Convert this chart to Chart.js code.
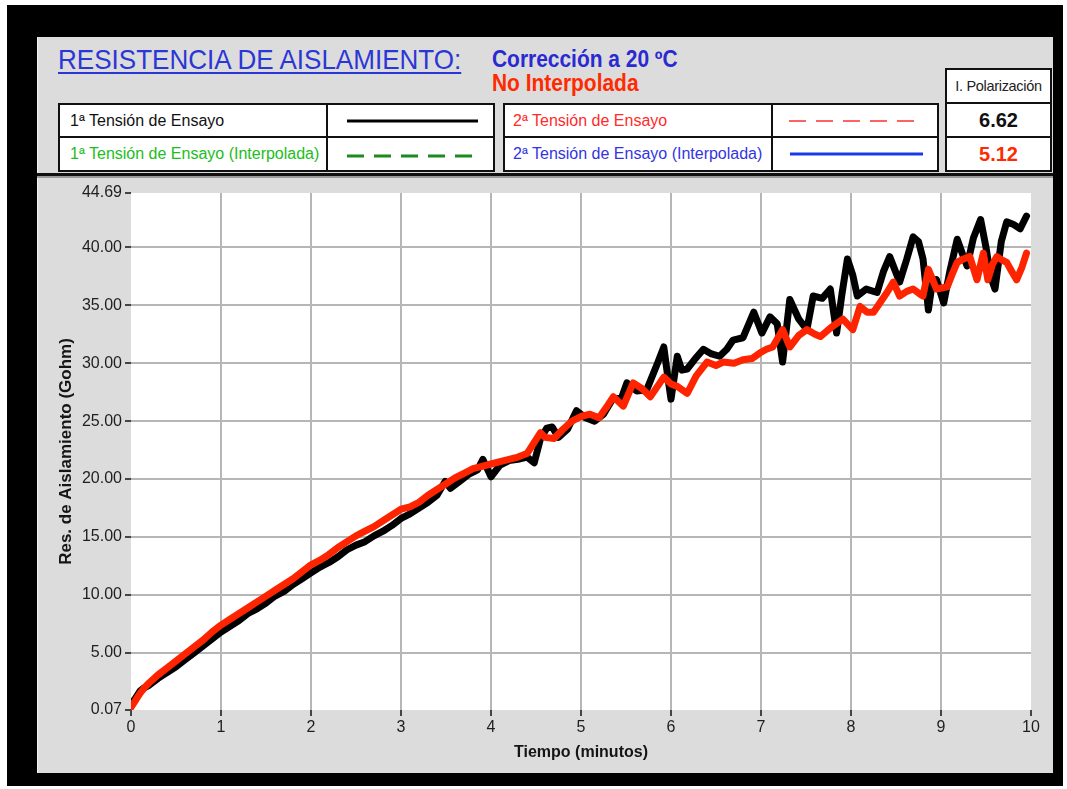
<!DOCTYPE html>
<html>
<head>
<meta charset="utf-8">
<script src="https://cdn.jsdelivr.net/npm/chart.js@4.4.1/dist/chart.umd.min.js"></script>
<style>
  html, body { margin: 0; padding: 0; background: #ffffff; }
  body { width: 1067px; height: 789px; position: relative; overflow: hidden;
         font-family: "Liberation Sans", Arial, sans-serif; }
  .abs { position: absolute; }
  #frame { left: 7px; top: 5px; width: 1056px; height: 781px; background: #000; }
  #panel { left: 37px; top: 37px; width: 1016px; height: 736px; background: #dcdcdc;
           box-shadow: inset 1px 0 0 #f4f4f4; }
  #title { left: 58px; top: 44px; font-size: 28px; line-height: 32px; color: #2b36d6;
           text-decoration: underline; text-decoration-thickness: 2px; text-underline-offset: 3px;
           white-space: nowrap; transform: scaleX(0.93); transform-origin: 0 0; }
  #corr { left: 492px; top: 46px; font-size: 23px; line-height: 26px; font-weight: bold; color: #2a2ad2;
          white-space: nowrap; transform: scaleX(0.91); transform-origin: 0 0; }
  #nointerp { left: 492px; top: 70px; font-size: 23px; line-height: 26px; font-weight: bold; color: #ff2a00;
              white-space: nowrap; transform: scaleX(0.91); transform-origin: 0 0; }
  .tbl { background: #fff; border: 2px solid #111; box-sizing: border-box; }
  .cell { position: absolute; box-sizing: border-box; font-size: 16px; white-space: nowrap;
          display: flex; align-items: center; }
  #sep { left: 37px; top: 173px; width: 1016px; height: 3px; background: #111;
         box-shadow: 0 2px 0 #9a9a9a; }
  #chartBox { left: 37px; top: 178px; width: 1016px; height: 595px; }
  .pol { background: #fff; border: 2px solid #111; box-sizing: border-box;
         display: flex; align-items: center; justify-content: center; white-space: nowrap; }
</style>
</head>
<body>
<div id="frame" class="abs"></div>
<div id="panel" class="abs"></div>

<div id="title" class="abs">RESISTENCIA DE AISLAMIENTO:</div>
<div id="corr" class="abs">Corrección a 20 ºC</div>
<div id="nointerp" class="abs">No Interpolada</div>

<!-- series key, first test voltage -->
<div class="abs tbl" style="left:58px;top:103px;width:437px;height:69px;">
  <div class="cell" style="left:0;top:0;width:268px;height:33px;border-right:2px solid #111;border-bottom:2px solid #111;padding-left:10px;color:#111;">1ª Tensión de Ensayo</div>
  <div class="cell" style="left:0;top:33px;width:268px;height:32px;border-right:2px solid #111;padding-left:10px;color:#21bd21;">1ª Tensión de Ensayo (Interpolada)</div>
  <div class="cell" style="left:268px;top:0;width:165px;height:33px;border-bottom:2px solid #111;"></div>
  <svg class="abs" style="left:268px;top:0;" width="165" height="65">
    <line x1="19" y1="16" x2="150" y2="16" stroke="#000" stroke-width="3"/>
    <line x1="19" y1="51" x2="150" y2="51" stroke="#1d8a1d" stroke-width="3" stroke-dasharray="17 10"/>
  </svg>
</div>

<!-- series key, second test voltage -->
<div class="abs tbl" style="left:503px;top:103px;width:436px;height:69px;">
  <div class="cell" style="left:0;top:0;width:268px;height:33px;border-right:2px solid #111;border-bottom:2px solid #111;padding-left:8px;color:#ff2a2a;">2ª Tensión de Ensayo</div>
  <div class="cell" style="left:0;top:33px;width:268px;height:32px;border-right:2px solid #111;padding-left:8px;color:#3434e0;">2ª Tensión de Ensayo (Interpolada)</div>
  <div class="cell" style="left:268px;top:0;width:164px;height:33px;border-bottom:2px solid #111;"></div>
  <svg class="abs" style="left:268px;top:0;" width="164" height="65">
    <line x1="16" y1="16" x2="150" y2="16" stroke="#ff6262" stroke-width="2" stroke-dasharray="17 10"/>
    <line x1="17" y1="49" x2="150" y2="49" stroke="#1a3ae8" stroke-width="3"/>
  </svg>
</div>

<!-- polarization index -->
<div class="abs pol" style="left:945px;top:68px;width:107px;height:36px;font-size:14.5px;color:#222;letter-spacing:-0.3px;">I. Polarización</div>
<div class="abs pol" style="left:945px;top:102px;width:107px;height:36px;font-size:20px;font-weight:bold;color:#111;">6.62</div>
<div class="abs pol" style="left:945px;top:136px;width:107px;height:36px;font-size:20px;font-weight:bold;color:#ff2a00;">5.12</div>

<div id="sep" class="abs"></div>

<div id="chartBox" class="abs"><canvas id="chart" width="1016" height="595"></canvas></div>

<script>
// Insulation resistance (Gohm) against elapsed test time (minutes)
const minutesFirst = [
  0.00, 0.05, 0.10, 0.15, 0.20, 0.30, 0.40, 0.50, 0.60, 0.70, 0.80, 0.90,
  1.00, 1.10, 1.20, 1.30, 1.40, 1.50, 1.60, 1.70, 1.80, 1.90,
  2.00, 2.10, 2.20, 2.30, 2.40, 2.50, 2.60, 2.70, 2.80, 2.90,
  3.00, 3.10, 3.20, 3.30, 3.40, 3.49, 3.55, 3.65, 3.75, 3.85, 3.91,
  4.00, 4.10, 4.20, 4.30, 4.40, 4.48, 4.55, 4.62, 4.68, 4.75, 4.85, 4.95,
  5.05, 5.15, 5.25, 5.35, 5.45, 5.51, 5.62, 5.73, 5.85, 5.92, 5.97,
  6.00, 6.07, 6.12, 6.18, 6.27, 6.36, 6.45, 6.54, 6.62, 6.69, 6.80, 6.92,
  7.01, 7.10, 7.18, 7.24, 7.32, 7.42, 7.51, 7.58, 7.68, 7.77, 7.84, 7.90, 7.96,
  8.02, 8.07, 8.17, 8.29, 8.36, 8.43, 8.54, 8.62, 8.69, 8.75, 8.80, 8.86, 8.90, 8.95,
  9.03, 9.10, 9.18, 9.24, 9.29, 9.36, 9.44, 9.50, 9.55, 9.60, 9.67, 9.73, 9.80, 9.88, 9.95
];
const resistanceFirst = [
  0.5, 1.1, 1.7, 2.0, 2.2, 2.8, 3.3, 3.8, 4.4, 5.0, 5.6, 6.2,
  6.8, 7.3, 7.8, 8.4, 8.8, 9.3, 9.9, 10.3, 10.9, 11.4,
  11.9, 12.4, 12.8, 13.3, 13.9, 14.3, 14.6, 15.1, 15.5, 16.0,
  16.6, 17.0, 17.5, 18.0, 18.6, 19.8, 19.2, 19.8, 20.4, 20.8, 21.7,
  20.2, 21.2, 21.6, 21.7, 21.9, 21.4, 23.5, 24.4, 24.5, 23.6, 24.3, 25.9,
  25.3, 25.0, 25.6, 26.9, 27.0, 28.3, 27.6, 27.7, 30.0, 31.4, 28.5,
  26.9, 30.6, 29.4, 29.5, 30.4, 31.2, 30.8, 30.6, 31.2, 32.0, 32.2, 34.4,
  32.6, 34.0, 33.4, 30.1, 35.5, 33.8, 32.9, 35.8, 35.6, 36.4, 32.6, 36.0, 39.0,
  37.6, 35.8, 36.4, 36.1, 37.9, 39.2, 37.0, 39.0, 40.9, 40.5, 39.0, 34.6, 36.8, 37.2,
  35.2, 38.0, 40.7, 39.4, 38.4, 40.8, 42.4, 40.0, 37.5, 36.4, 40.5, 42.2, 42.0, 41.6, 42.7
];

const minutesSecond = [
  0.00, 0.05, 0.10, 0.15, 0.20, 0.30, 0.40, 0.50, 0.60, 0.70, 0.80, 0.90,
  1.00, 1.10, 1.20, 1.30, 1.40, 1.50, 1.60, 1.70, 1.80, 1.90,
  2.00, 2.10, 2.20, 2.30, 2.40, 2.50, 2.60, 2.70, 2.80, 2.90,
  3.00, 3.10, 3.20, 3.30, 3.40, 3.50, 3.60, 3.70, 3.80, 3.90,
  4.00, 4.10, 4.20, 4.30, 4.40, 4.50, 4.55, 4.60, 4.70, 4.80, 4.90,
  5.00, 5.10, 5.20, 5.30, 5.36, 5.47, 5.58, 5.68, 5.77, 5.85, 5.92,
  6.00, 6.07, 6.18, 6.28, 6.40, 6.50, 6.58, 6.70, 6.80, 6.90, 6.99,
  7.06, 7.13, 7.24, 7.32, 7.42, 7.51, 7.60, 7.66, 7.78, 7.91,
  8.02, 8.10, 8.18, 8.25, 8.33, 8.40, 8.47, 8.54, 8.62, 8.69, 8.76, 8.80, 8.86, 8.95,
  9.07, 9.12, 9.18, 9.25, 9.32, 9.40, 9.47, 9.52, 9.57, 9.62, 9.68, 9.73, 9.78, 9.84, 9.90, 9.95
];
const resistanceSecond = [
  0.3, 0.9, 1.5, 2.0, 2.4, 3.1, 3.7, 4.3, 4.9, 5.5, 6.1, 6.8,
  7.4, 7.9, 8.4, 8.9, 9.4, 9.9, 10.4, 10.9, 11.4, 12.0,
  12.6, 13.0, 13.5, 14.1, 14.6, 15.1, 15.5, 15.9, 16.4, 16.9,
  17.4, 17.6, 18.0, 18.6, 19.1, 19.6, 20.1, 20.5, 20.9, 21.1,
  21.3, 21.5, 21.7, 21.9, 22.2, 23.4, 24.0, 23.6, 23.5, 24.3, 25.0,
  25.4, 25.6, 25.3, 26.4, 27.1, 26.3, 28.3, 27.8, 27.1, 28.0, 28.8,
  28.2, 28.0, 27.4, 28.9, 30.1, 29.8, 30.1, 30.0, 30.3, 30.4, 30.9,
  31.2, 31.4, 32.9, 31.4, 32.4, 32.9, 32.5, 32.3, 33.1, 33.8,
  32.9, 34.9, 34.4, 34.4, 35.3, 36.1, 37.0, 35.8, 36.2, 36.4, 36.0, 35.8, 38.1, 36.4,
  36.6, 37.6, 38.7, 39.0, 39.2, 37.2, 39.5, 37.2, 38.5, 39.2, 38.9, 38.7, 38.0, 37.2, 38.3, 39.5
];

const timeTicks = [0, 1, 2, 3, 4, 5, 6, 7, 8, 9, 10];
const resistanceTicks = [0.07, 5, 10, 15, 20, 25, 30, 35, 40, 44.69];

const toPoints = (xs, ys) => xs.map((x, i) => ({ x: x, y: ys[i] }));

// white plotting surface on the grey panel
const plotBackground = {
  id: 'plotBackground',
  beforeDraw(chart) {
    const { ctx, chartArea: a } = chart;
    ctx.save();
    ctx.fillStyle = '#ffffff';
    ctx.fillRect(a.left, a.top, a.right - a.left, a.bottom - a.top);
    ctx.restore();
  }
};

const tickFont = { family: '"Liberation Sans", Arial, sans-serif', size: 16 };
const innerGrid = (ticks) => (ctx) =>
  (ctx.index === 0 || ctx.index === ticks.length - 1) ? 'rgba(0,0,0,0)' : '#b6b6b6';

new Chart(document.getElementById('chart'), {
  type: 'line',
  data: {
    datasets: [
      {
        label: '2ª Tensión de Ensayo',
        data: toPoints(minutesSecond, resistanceSecond),
        borderColor: '#ff2400',
        borderWidth: 7,
        pointRadius: 0,
        tension: 0,
        borderJoinStyle: 'round',
        borderCapStyle: 'round'
      },
      {
        label: '1ª Tensión de Ensayo',
        data: toPoints(minutesFirst, resistanceFirst),
        borderColor: '#000000',
        borderWidth: 7,
        pointRadius: 0,
        tension: 0,
        borderJoinStyle: 'round',
        borderCapStyle: 'round'
      }
    ]
  },
  options: {
    responsive: false,
    animation: false,
    devicePixelRatio: 1,
    layout: { padding: { left: 0, top: 15, right: 22, bottom: 0 } },
    plugins: { legend: { display: false }, tooltip: { enabled: false } },
    scales: {
      x: {
        type: 'linear',
        min: 0,
        max: 10,
        afterBuildTicks: (s) => { s.ticks = timeTicks.map(v => ({ value: v })); },
        afterFit: (s) => { s.height = 63; },
        border: { display: false },
        grid: { color: innerGrid(timeTicks), lineWidth: 2, tickLength: 6, tickColor: '#444', tickWidth: 2 },
        ticks: { font: tickFont, color: '#1e1e1e', padding: 2, maxRotation: 0,
                 callback: (v) => String(v) },
        title: { display: true, text: 'Tiempo (minutos)', color: '#151515',
                 font: { family: '"Liberation Sans", Arial, sans-serif', size: 16, weight: 'bold' },
                 padding: { top: 0, bottom: 11 } }
      },
      y: {
        type: 'linear',
        min: 0.07,
        max: 44.69,
        afterBuildTicks: (s) => { s.ticks = resistanceTicks.map(v => ({ value: v })); },
        afterFit: (s) => { s.width = 94; },
        border: { display: false },
        grid: { color: innerGrid(resistanceTicks), lineWidth: 2, tickLength: 6, tickColor: '#444', tickWidth: 2 },
        ticks: { font: tickFont, color: '#1e1e1e', padding: 3,
                 callback: (v) => Number(v).toFixed(2) },
        title: { display: true, text: 'Res. de Aislamiento (Gohm)', color: '#151515',
                 font: { family: '"Liberation Sans", Arial, sans-serif', size: 17, weight: 'bold' },
                 padding: { top: 19, bottom: 0 } }
      }
    }
  },
  plugins: [plotBackground]
});
</script>
</body>
</html>
